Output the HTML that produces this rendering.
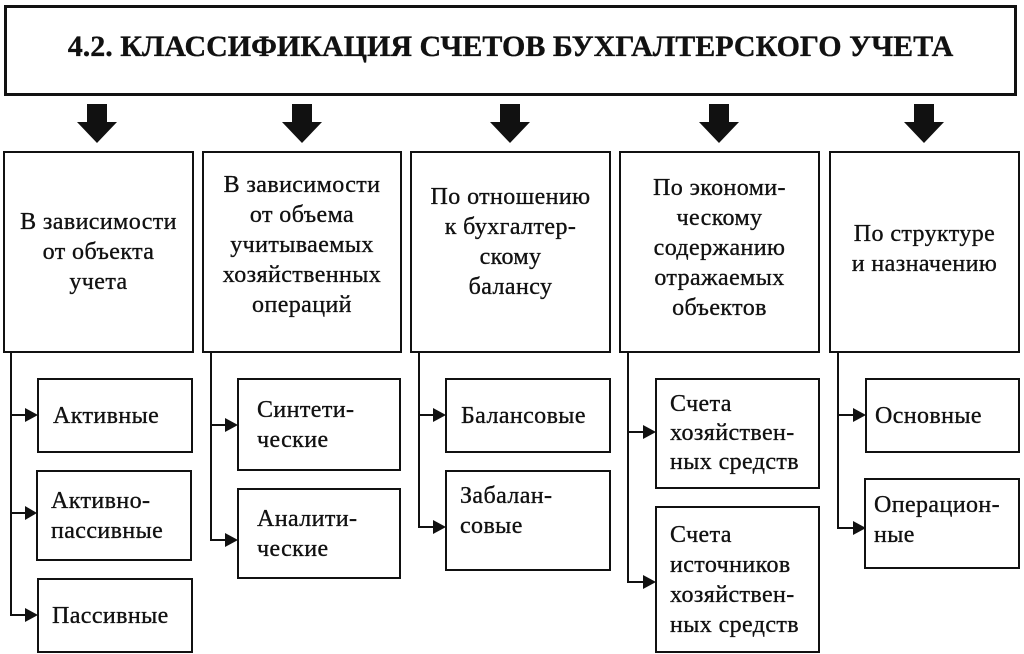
<!DOCTYPE html>
<html><head><meta charset="utf-8"><style>
body{margin:0;background:#fff;}
#c{position:relative;width:1024px;height:654px;overflow:hidden;font-family:"Liberation Serif","Noto Serif CJK SC",serif;color:#111;}
.b{position:absolute;border:2px solid #111;box-sizing:border-box;font-size:24px;line-height:30px;letter-spacing:0.4px;-webkit-text-stroke:0.35px #111;white-space:nowrap;}
.cen{display:flex;align-items:center;justify-content:center;text-align:center;}
.lft{display:flex;align-items:center;}
</style></head><body><div id="c">
<div class="b cen" style="left:4px;top:5px;width:1013px;height:91px;border-width:3px;font-weight:bold;font-size:30px;letter-spacing:0;padding-bottom:8px;">4.2. КЛАССИФИКАЦИЯ СЧЕТОВ БУХГАЛТЕРСКОГО УЧЕТА</div>

<svg style="position:absolute;left:0;top:0" width="1024" height="654">
<g fill="#111">
<polygon points="87,104 107,104 107,122 117,122 97,143 77,122 87,122"/>
<polygon points="292,104 312,104 312,122 322,122 302,143 282,122 292,122"/>
<polygon points="500,104 520,104 520,122 530,122 510,143 490,122 500,122"/>
<polygon points="709,104 729,104 729,122 739,122 719,143 699,122 709,122"/>
<polygon points="914,104 934,104 934,122 944,122 924,143 904,122 914,122"/>
</g>
<g stroke="#111" stroke-width="2" fill="none">
<polyline points="11,352 11,615 27,615"/><line x1="11" y1="415" x2="27" y2="415"/><line x1="11" y1="513" x2="27" y2="513"/>
<polyline points="211,352 211,540 227,540"/><line x1="211" y1="425" x2="227" y2="425"/>
<polyline points="419,352 419,527 435,527"/><line x1="419" y1="415" x2="435" y2="415"/>
<polyline points="628,352 628,582 645,582"/><line x1="628" y1="432" x2="645" y2="432"/>
<polyline points="838,352 838,528 855,528"/><line x1="838" y1="415" x2="855" y2="415"/>
</g>
<g fill="#111">
<polygon points="25,408 38,415 25,422"/><polygon points="25,506 37,513 25,520"/><polygon points="25,608 38,615 25,622"/>
<polygon points="225,418 238,425 225,432"/><polygon points="225,533 238,540 225,547"/>
<polygon points="433,408 446,415 433,422"/><polygon points="433,520 446,527 433,534"/>
<polygon points="643,425 656,432 643,439"/><polygon points="643,575 656,582 643,589"/>
<polygon points="853,408 866,415 853,422"/><polygon points="853,521 866,528 853,535"/>
</g>
</svg>

<div class="b cen" style="left:3px;top:151px;width:191px;height:202px;">В зависимости<br>от объекта<br>учета</div>
<div class="b cen" style="left:202px;top:151px;width:200px;height:202px;padding-bottom:14px;">В зависимости<br>от объема<br>учитываемых<br>хозяйственных<br>операций</div>
<div class="b cen" style="left:410px;top:151px;width:201px;height:202px;padding-bottom:20px;">По отношению<br>к бухгалтер-<br>скому<br>балансу</div>
<div class="b cen" style="left:619px;top:151px;width:201px;height:202px;padding-bottom:8px;">По экономи-<br>ческому<br>содержанию<br>отражаемых<br>объектов</div>
<div class="b cen" style="left:829px;top:151px;width:191px;height:202px;padding-bottom:6px;">По структуре<br>и назначению</div>

<div class="b lft" style="left:37px;top:378px;width:156px;height:75px;padding-left:14px;">Активные</div>
<div class="b lft" style="left:36px;top:470px;width:156px;height:91px;padding-left:13px;">Активно-<br>пассивные</div>
<div class="b lft" style="left:37px;top:578px;width:156px;height:75px;padding-left:13px;">Пассивные</div>

<div class="b lft" style="left:237px;top:378px;width:164px;height:93px;padding-left:18px;">Синтети-<br>ческие</div>
<div class="b lft" style="left:237px;top:488px;width:164px;height:91px;padding-left:18px;">Аналити-<br>ческие</div>

<div class="b lft" style="left:445px;top:378px;width:166px;height:75px;padding-left:14px;">Балансовые</div>
<div class="b lft" style="left:445px;top:470px;width:166px;height:101px;padding-left:13px;padding-bottom:20px;">Забалан-<br>совые</div>

<div class="b lft" style="left:655px;top:378px;width:165px;height:111px;padding-left:13px;line-height:29px;">Счета<br>хозяйствен-<br>ных средств</div>
<div class="b lft" style="left:655px;top:506px;width:165px;height:147px;padding-left:13px;line-height:30px;">Счета<br>источников<br>хозяйствен-<br>ных средств</div>

<div class="b lft" style="left:865px;top:378px;width:155px;height:75px;padding-left:8px;">Основные</div>
<div class="b lft" style="left:864px;top:478px;width:156px;height:91px;padding-left:8px;padding-bottom:8px;">Операцион-<br>ные</div>
</div></body></html>
